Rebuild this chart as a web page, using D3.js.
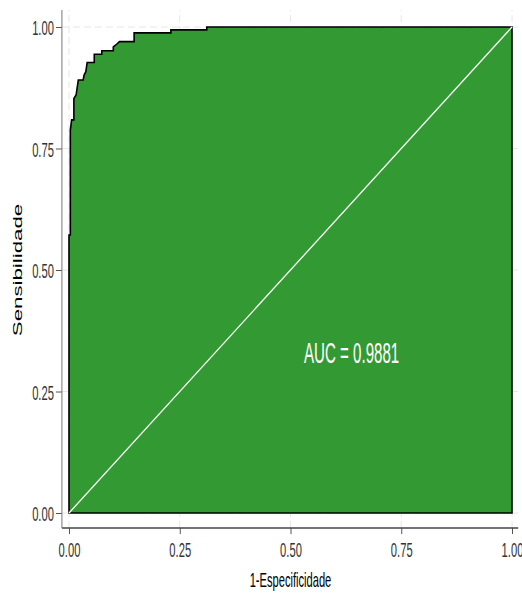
<!DOCTYPE html>
<html>
<head>
<meta charset="utf-8">
<script src="https://cdn.jsdelivr.net/npm/d3@7"></script>
<style>
  html, body { margin: 0; padding: 0; background: #ffffff; }
  svg { display: block; }
</style>
</head>
<body>
<svg id="chart" width="522" height="597"></svg>
<script>
// ROC curve vertices (false positive rate, true positive rate)
const fpr = [0, 0, 0.003, 0.003, 0.006, 0.011, 0.011, 0.016, 0.021, 0.032, 0.034, 0.038, 0.041, 0.057, 0.057, 0.074, 0.074, 0.100, 0.100, 0.108, 0.114, 0.147, 0.147, 0.230, 0.230, 0.311, 0.311, 1];
const tpr = [0, 0.572, 0.572, 0.788, 0.809, 0.809, 0.853, 0.860, 0.891, 0.891, 0.901, 0.908, 0.927, 0.927, 0.944, 0.944, 0.951, 0.951, 0.959, 0.965, 0.970, 0.970, 0.988, 0.988, 0.994, 0.994, 1, 1];
const tickValues = [0, 0.25, 0.5, 0.75, 1];
const aucValue = 0.9881;
const xTitle = "1-Especificidade";
const yTitle = "Sensibilidade";

const svg = d3.select("#chart");

const x = d3.scaleLinear().domain([0, 1]).range([69, 512]);
const y = d3.scaleLinear().domain([0, 1]).range([513, 27]);

// panel extends slightly beyond the unit square
const xLim = [-0.016, 1.014];
const yLim = [-0.031, 1.035];

const fmt = d3.format(".2f");
const narrow = 0.56; // horizontal squeeze for the condensed lettering

// grid lines
const grid = svg.append("g");
grid.selectAll("line.v").data(tickValues).join("line")
  .attr("x1", d => x(d)).attr("x2", d => x(d))
  .attr("y1", y(yLim[0])).attr("y2", y(yLim[1]))
  .attr("stroke", "#e6e6e6").attr("stroke-width", 1)
  .attr("stroke-dasharray", "7,4");
grid.selectAll("line.h").data(tickValues).join("line")
  .attr("x1", x(xLim[0])).attr("x2", x(xLim[1]))
  .attr("y1", d => y(d)).attr("y2", d => y(d))
  .attr("stroke", "#e6e6e6").attr("stroke-width", 1)
  .attr("stroke-dasharray", "7,4");

// area under the ROC curve
const pts = fpr.map((f, i) => [f, tpr[i]]);
const poly = pts.concat([[1, 0], [0, 0]]);
svg.append("path")
  .attr("d", d3.line().x(d => x(d[0])).y(d => y(d[1]))(poly) + "Z")
  .attr("fill", "#339933")
  .attr("stroke", "#000000")
  .attr("stroke-width", 1.6)
  .attr("stroke-linejoin", "miter");

// chance diagonal
svg.append("line")
  .attr("x1", x(0)).attr("y1", y(0))
  .attr("x2", x(1)).attr("y2", y(1))
  .attr("stroke", "#ffffff").attr("stroke-width", 1.3);

// AUC annotation
svg.append("text")
  .attr("transform", `translate(${x(0.638)},${y(0.309)}) scale(0.52,1)`)
  .attr("text-anchor", "middle")
  .attr("font-family", "Liberation Sans, Arial, sans-serif")
  .attr("font-size", 29)
  .attr("fill", "#ffffff")
  .text(`AUC = ${aucValue}`);

// axes
const xAxis = d3.axisBottom(x).tickValues(tickValues).tickFormat(fmt).tickSize(6).tickPadding(3);
const yAxis = d3.axisLeft(y).tickValues(tickValues).tickFormat(fmt).tickSize(6).tickPadding(3);

const gx = svg.append("g").attr("transform", `translate(0,${y(yLim[0])})`).call(xAxis);
const gy = svg.append("g").attr("transform", `translate(${x(xLim[0])},0)`).call(yAxis);

[gx, gy].forEach(g => {
  g.select(".domain").remove();
  g.selectAll(".tick line").attr("stroke", "#555555").attr("stroke-width", 1);
  g.selectAll(".tick text")
    .attr("font-family", "Liberation Sans, Arial, sans-serif")
    .attr("font-size", 20)
    .attr("fill", "#333333");
});
gx.selectAll(".tick text")
  .attr("y", 0).attr("dy", 0)
  .attr("transform", `translate(0,29) scale(${narrow},1)`);
gy.selectAll(".tick text")
  .attr("x", 0).attr("dy", 0)
  .attr("transform", `translate(-8,7.5) scale(${narrow},1)`);

// axis lines
svg.append("line")
  .attr("x1", x(xLim[0])).attr("x2", x(xLim[1]))
  .attr("y1", y(yLim[0])).attr("y2", y(yLim[0]))
  .attr("stroke", "#444444").attr("stroke-width", 1.5);
svg.append("line")
  .attr("x1", x(xLim[0])).attr("x2", x(xLim[0]))
  .attr("y1", y(yLim[0])).attr("y2", y(yLim[1]))
  .attr("stroke", "#777777").attr("stroke-width", 1);

// axis titles
svg.append("text")
  .attr("transform", `translate(${(x(0) + x(1)) / 2},587) scale(0.53,1)`)
  .attr("text-anchor", "middle")
  .attr("font-family", "Liberation Sans, Arial, sans-serif")
  .attr("font-size", 21)
  .attr("fill", "#000000")
  .text(xTitle);

svg.append("text")
  .attr("transform", `translate(22,${(y(0) + y(1)) / 2}) rotate(-90) scale(1.65,1)`)
  .attr("text-anchor", "middle")
  .attr("font-family", "Liberation Sans, Arial, sans-serif")
  .attr("font-size", 13.5)
  .attr("fill", "#000000")
  .text(yTitle);
</script>
</body>
</html>
